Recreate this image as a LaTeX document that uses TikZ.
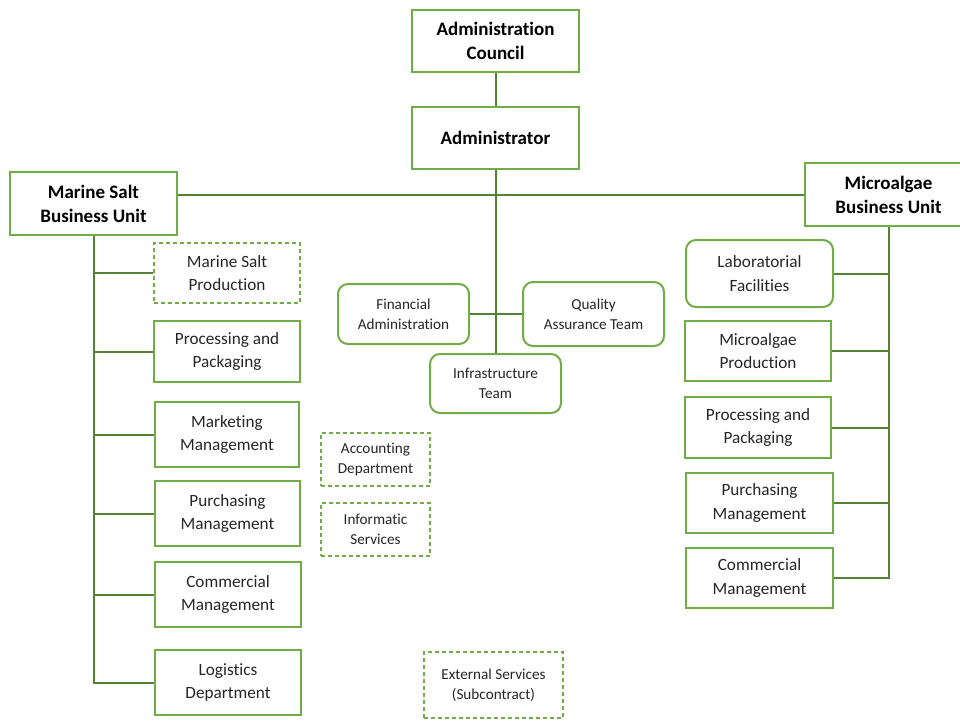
\documentclass[tikz,border=0pt]{standalone}
\usepackage{fontspec}
\setmainfont{Carlito}[Ligatures={NoCommon,NoContextual}]
\definecolor{boxgreen}{HTML}{70AD47}
\definecolor{linegreen}{HTML}{548235}
\definecolor{txt}{HTML}{262626}
\tikzset{
  box/.style={draw=boxgreen, line width=2pt, fill=white, align=center, inner sep=0pt, text=txt,
    font=\fontsize{17.2}{23.5}\selectfont},
  bigbox/.style={box, font=\fontsize{19}{24}\selectfont\bfseries, text=black},
  dashbox/.style={box, dash pattern=on 4pt off 3pt},
  roundbox/.style={box, rounded corners=10pt},
  small/.style={font=\fontsize{15.2}{20}\selectfont},
  conn/.style={draw=linegreen, line width=2pt},
}
\begin{document}
\begin{tikzpicture}[x=1pt,y=-1pt]
\useasboundingbox (0,0) rectangle (960,720);
% top
\node[bigbox, minimum width=167, minimum height=62] (council) at (495.5,41) {Administration\\Council};
\node[bigbox, minimum width=167, minimum height=62] (admin) at (495.5,138) {Administrator};
\node[bigbox, minimum width=167, minimum height=63] (msbu) at (93.5,203.5) {Marine Salt\\Business Unit};
\node[bigbox, minimum width=167, minimum height=63] (mabu) at (888.5,194.5) {Microalgae\\Business Unit};
% central
\node[roundbox, small, minimum width=131, minimum height=60] (fin) at (403.5,314) {Financial\\Administration};
\node[roundbox, small, minimum width=141, minimum height=64] (qual) at (593.5,314) {Quality\\Assurance Team};
\node[roundbox, small, minimum width=131, minimum height=59] (infra) at (495.5,383.5) {Infrastructure\\Team};
% left column
\node[dashbox, minimum width=146, minimum height=60] (msp) at (227,273) {Marine Salt\\Production};
\node[box, minimum width=146, minimum height=61] (lpp) at (227,351.5) {Processing and\\Packaging};
\node[box, minimum width=144, minimum height=65] (lmm) at (227,434.5) {Marketing\\Management};
\node[box, minimum width=145, minimum height=65] (lpm) at (227.5,513.5) {Purchasing\\Management};
\node[box, minimum width=146, minimum height=65] (lcm) at (228,594.5) {Commercial\\Management};
\node[box, minimum width=146, minimum height=65] (ld) at (228,682.5) {Logistics\\Department};
% right column
\node[roundbox, minimum width=147, minimum height=67] (lab) at (759.5,273.5) {Laboratorial\\Facilities};
\node[box, minimum width=146, minimum height=60] (map) at (758,351) {Microalgae\\Production};
\node[box, minimum width=146, minimum height=61] (rpp) at (758,427.5) {Processing and\\Packaging};
\node[box, minimum width=147, minimum height=60] (rpm) at (759.5,503) {Purchasing\\Management};
\node[box, minimum width=147, minimum height=60] (rcm) at (759.5,578) {Commercial\\Management};
% dashed standalone
\node[dashbox, small, minimum width=109, minimum height=53] (acc) at (375.5,459.5) {Accounting\\Department};
\node[dashbox, small, minimum width=109, minimum height=53] (inf) at (375.5,529.5) {Informatic\\Services};
\node[dashbox, small, minimum width=139, minimum height=66] (ext) at (493.5,685) {External Services\\(Subcontract)};
% connectors
\draw[conn] (council.south) -- (admin.north);
\draw[conn] (admin.south) -- (infra.north);
\draw[conn] (fin.east) -- (qual.west);
\coordinate (hl) at (msbu.east |- mabu.west);
\draw[conn] (hl) -- (mabu.west);
\foreach \c in {msp,lpp,lmm,lpm,lcm,ld}{
  \draw[conn] (msbu.south) |- (\c.west);
}
\foreach \c in {lab,map,rpp,rpm,rcm}{
  \draw[conn] (mabu.south) |- (\c.east);
}
\end{tikzpicture}
\end{document}
